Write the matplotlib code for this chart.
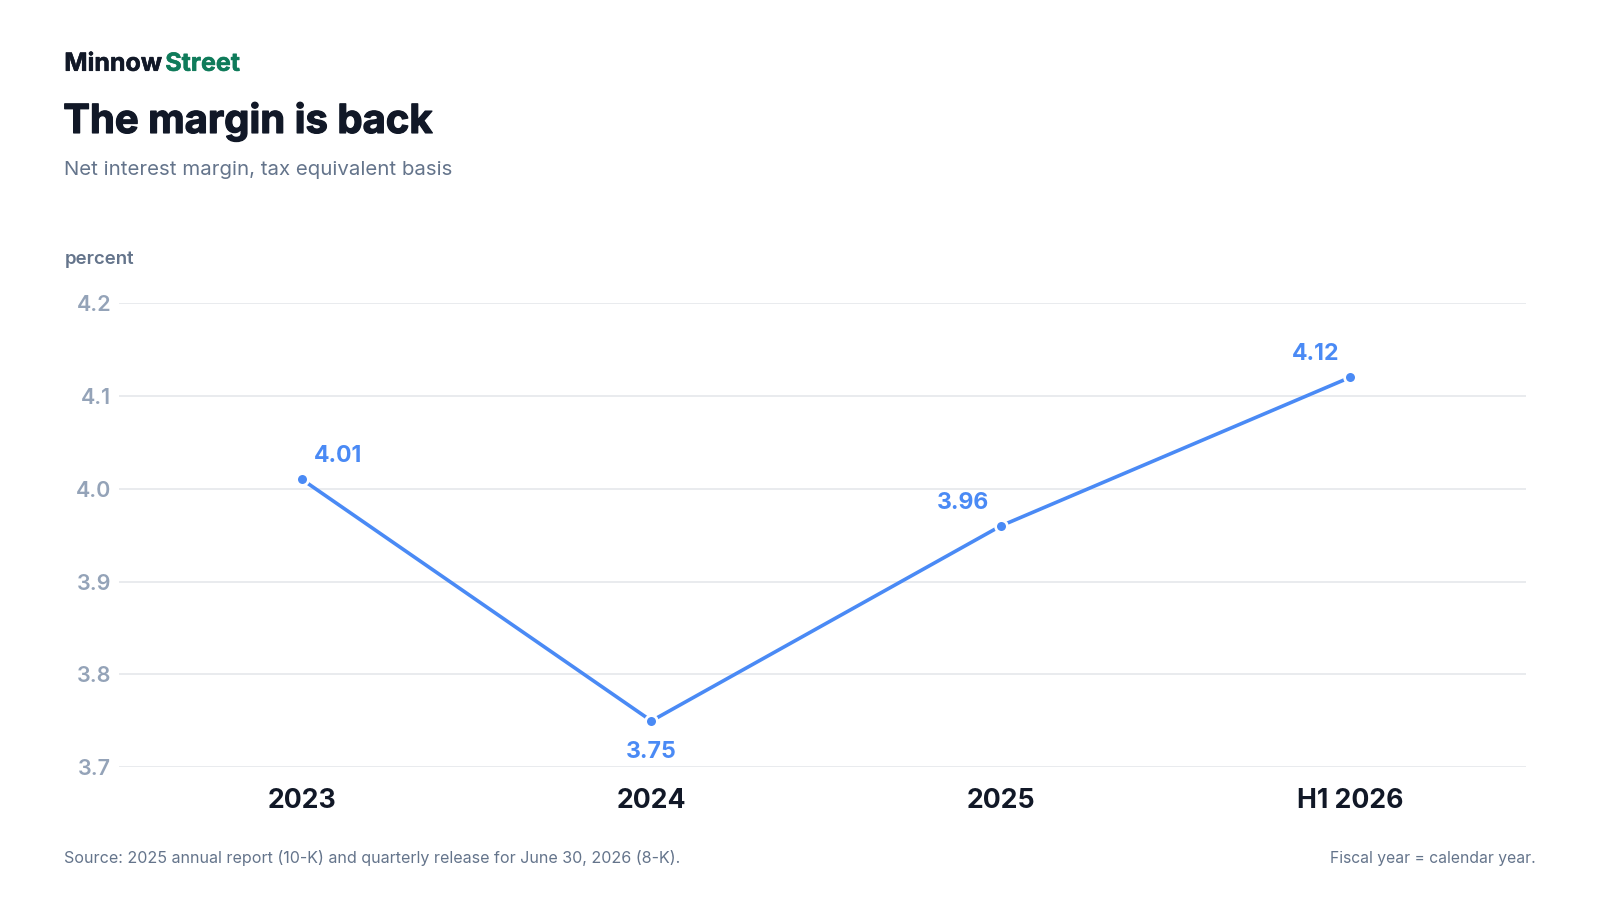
import matplotlib
matplotlib.use("Agg")
import matplotlib.pyplot as plt
import matplotlib.patheffects as pe

plt.rcParams['font.family'] = ['Inter', 'DejaVu Sans']

categories = ["2023", "2024", "2025", "H1 2026"]
values = [4.01, 3.75, 3.96, 4.12]
label_texts = ["4.01", "3.75", "3.96", "4.12"]
yticks = [3.7, 3.8, 3.9, 4.0, 4.1, 4.2]

BLUE = "#4a8af5"
DARK = "#111827"
GREY = "#64748b"
TICK = "#94a3b8"
GRID = "#e5e7eb"
GREEN = "#0f7b5a"

# layout measured on a 1568x882 view of the 1600x900 canvas
W, H = 1568, 882
K = 1600 / 1568  # px scale
PT = 0.72 * K    # display px -> points

fig = plt.figure(figsize=(16, 9), dpi=100)
fig.patch.set_facecolor("white")

def fx(px):
    return px / W

def fy(py):
    return 1 - py / H

ax = fig.add_axes([fx(117), fy(752), fx(1495) - fx(117), fy(297) - fy(752)])
x = list(range(len(categories)))
ax.set_xlim(-0.523, 3.502)
ax.set_ylim(3.7, 4.2)
ax.set_yticks(yticks)
ax.set_yticklabels([f"{t:.1f}" for t in yticks])
ax.yaxis.grid(True, color=GRID, linewidth=1.2)
ax.set_axisbelow(True)
for s in ax.spines.values():
    s.set_visible(False)
ax.tick_params(axis="y", length=0, pad=6, labelsize=15.5, labelcolor=TICK)
for lab in ax.get_yticklabels():
    lab.set_fontweight("semibold")
ax.set_xticks(x)
ax.set_xticklabels(categories, fontsize=19.2, fontweight="bold", color=DARK)
ax.tick_params(axis="x", length=0, pad=15)

ax.plot(x, values, color=BLUE, linewidth=2.6, zorder=3, solid_capstyle="round")
ax.plot(x, values, linestyle="none", marker="o", markersize=8.5,
        markerfacecolor=BLUE, markeredgecolor="white", markeredgewidth=2, zorder=4)

offsets = [(35, 23), (0, -30), (-37, 22), (-34, 23)]
for xi, v, t, (dx, dy) in zip(x, values, label_texts, offsets):
    ax.annotate(t, (xi, v), xytext=(dx * PT, dy * PT), textcoords="offset points",
                ha="center", va="center", fontsize=16.6, fontweight="bold", color=BLUE, zorder=5)

heavy = [pe.withStroke(linewidth=0.9, foreground=DARK)]
fig.text(fx(63), fy(63), "Minnow", fontsize=18, fontweight="bold", color=DARK, va="center", ha="left",
         path_effects=[pe.withStroke(linewidth=0.4, foreground=DARK)])
fig.text(fx(162), fy(63), "Street", fontsize=18, fontweight="bold", color=GREEN, va="center", ha="left",
         path_effects=[pe.withStroke(linewidth=0.4, foreground=GREEN)])
fig.text(fx(62), fy(119), "The margin is back", fontsize=28.8, fontweight="bold", color=DARK, va="center", ha="left",
         path_effects=heavy)
fig.text(fx(63), fy(167), "Net interest margin, tax equivalent basis", fontsize=14.7, color=GREY, va="center", ha="left")
fig.text(fx(63), fy(254), "percent", fontsize=13.4, fontweight="semibold", color=GREY, va="center", ha="left")
fig.text(fx(63), fy(841), "Source: 2025 annual report (10-K) and quarterly release for June 30, 2026 (8-K).",
         fontsize=11.57, color=GREY, va="center", ha="left")
fig.text(fx(1505), fy(841), "Fiscal year = calendar year.", fontsize=11.3, color=GREY, va="center", ha="right")

fig.savefig("out.png", dpi=100, facecolor="white")
